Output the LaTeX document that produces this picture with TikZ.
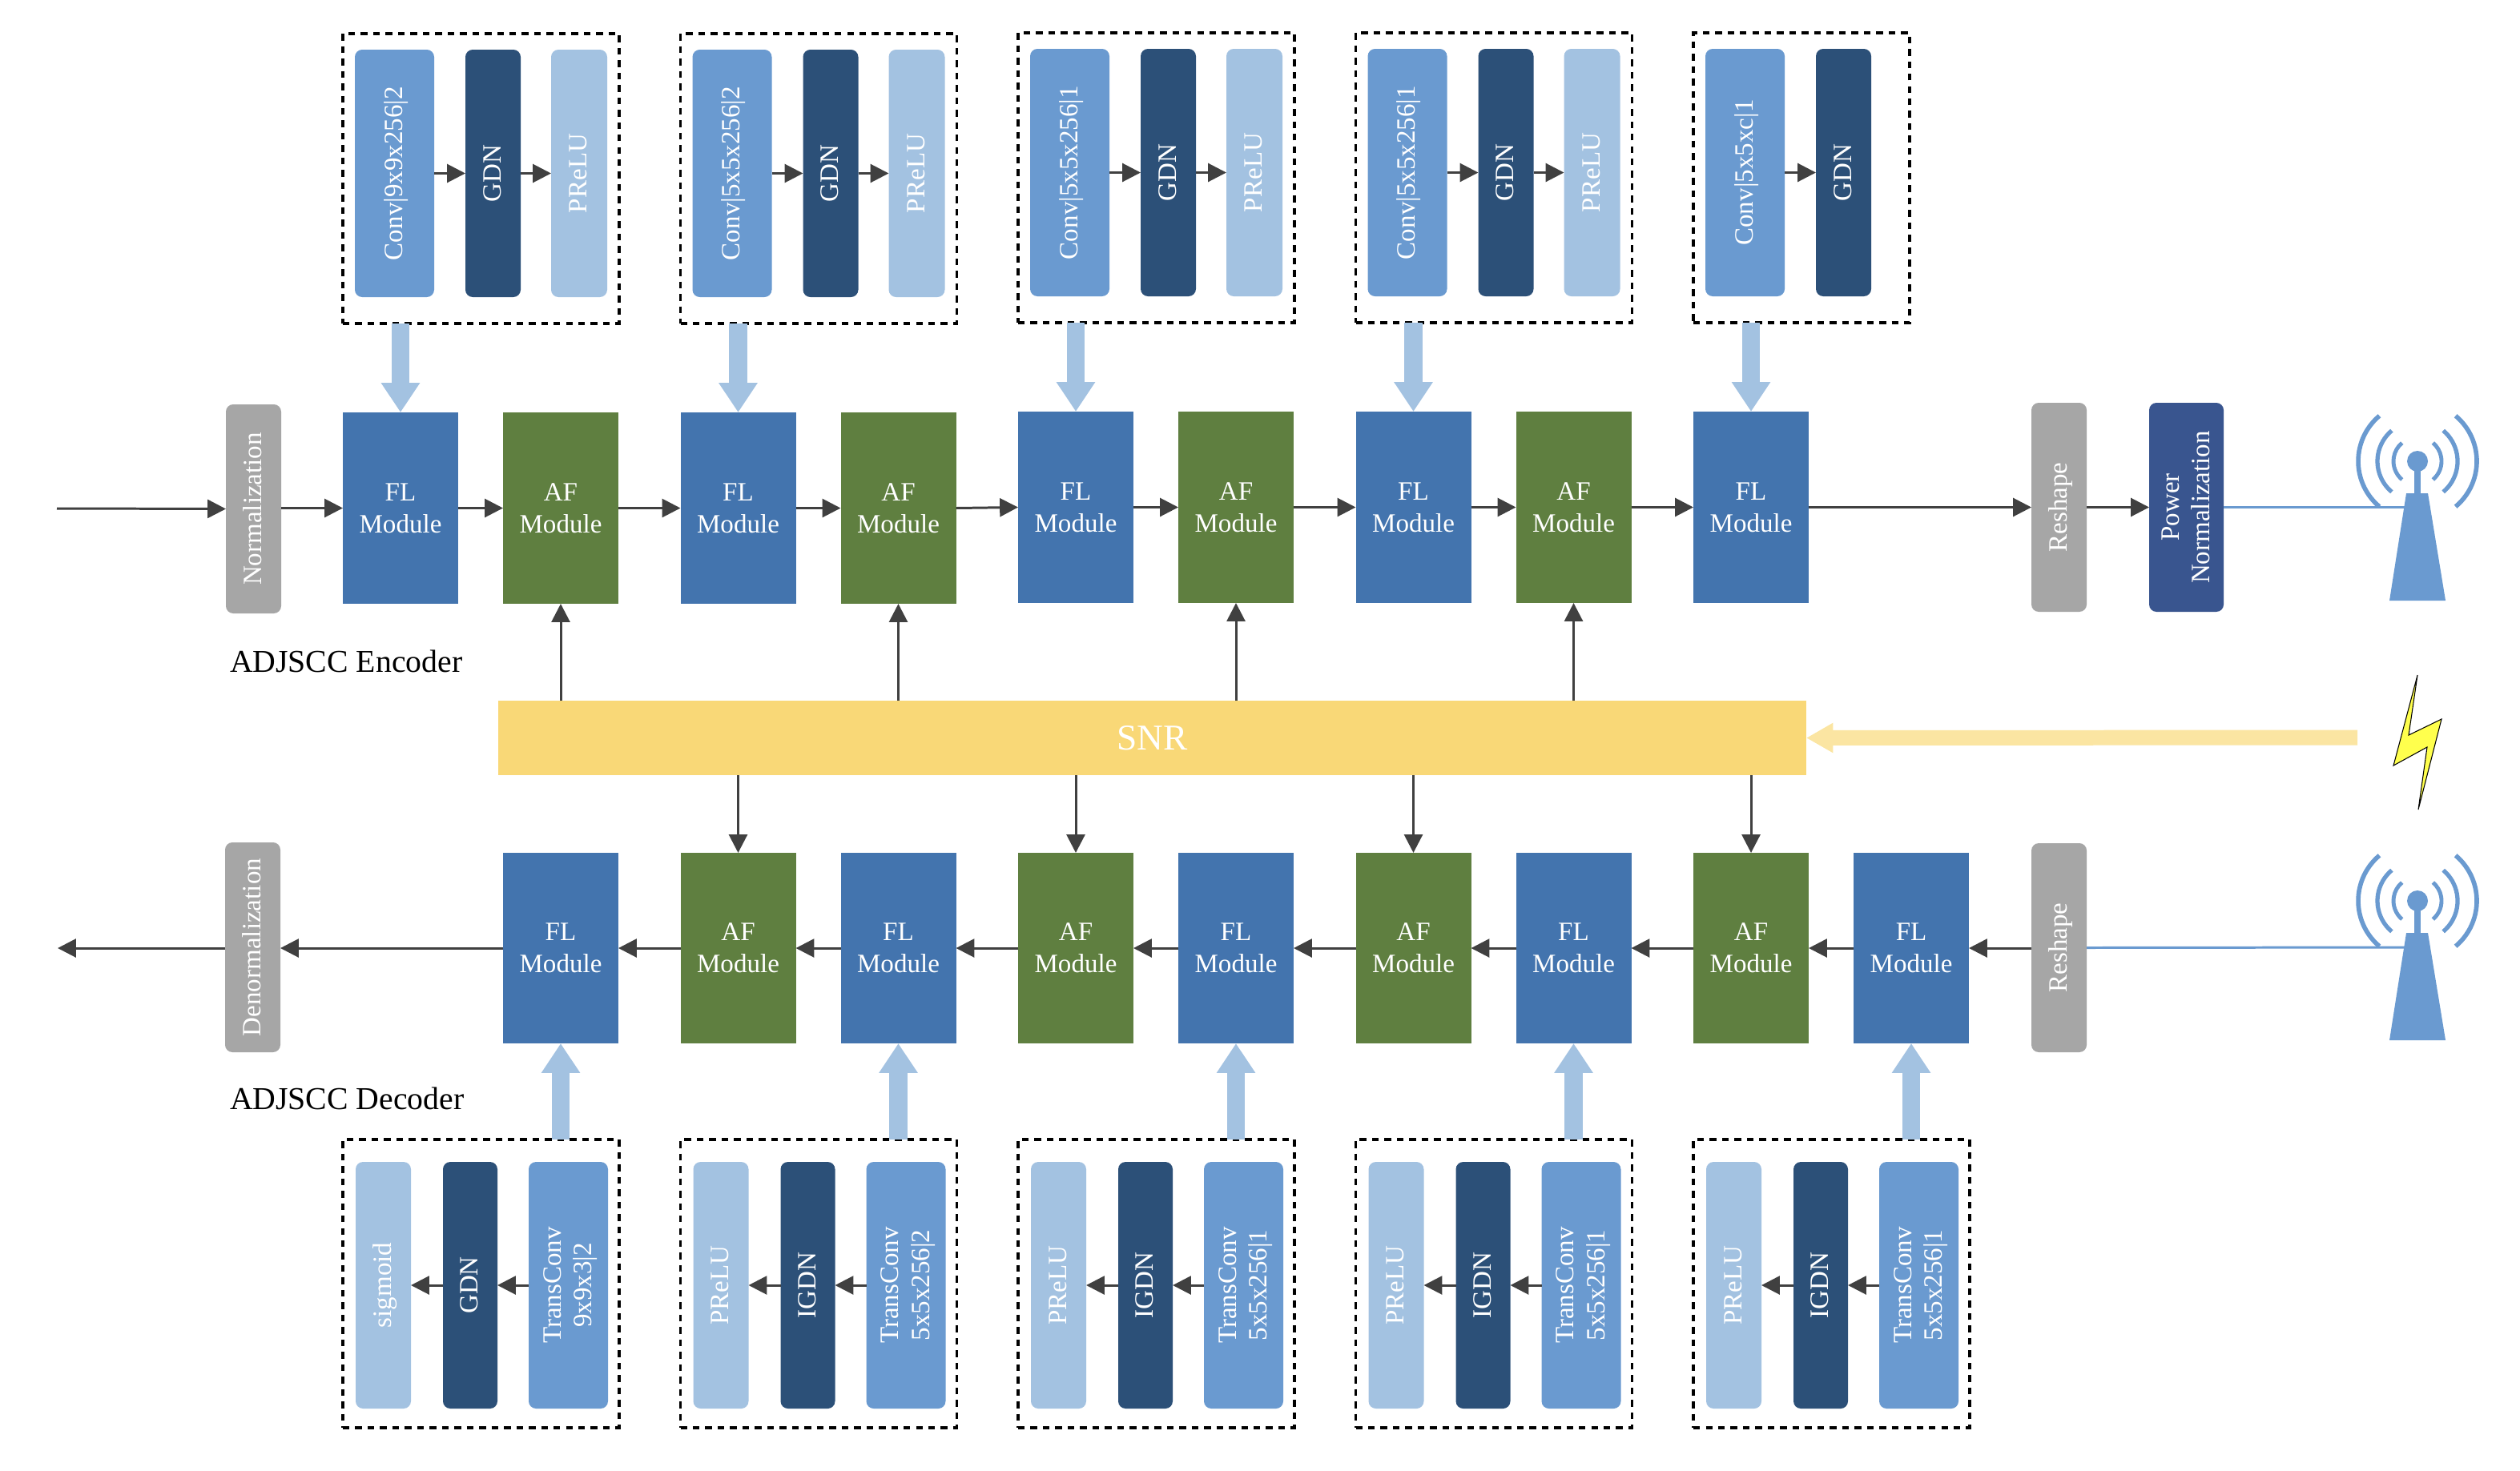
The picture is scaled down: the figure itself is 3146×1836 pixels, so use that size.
\documentclass[tikz,border=0pt]{standalone}
\usepackage{fontspec}
\setmainfont{Liberation Serif}
\usepackage{graphicx}
\usetikzlibrary{arrows.meta}
\definecolor{convblue}{HTML}{6A9AD0}
\definecolor{gdnblue}{HTML}{2C5078}
\definecolor{prelublue}{HTML}{A3C2E1}
\definecolor{flblue}{HTML}{4374AE}
\definecolor{afgreen}{HTML}{5F7F40}
\definecolor{normgray}{HTML}{A6A6A6}
\definecolor{powerblue}{HTML}{39558F}
\definecolor{snryellow}{HTML}{F9D877}
\definecolor{snrarrow}{HTML}{FBE5A2}
\definecolor{arrowdark}{HTML}{404040}
\definecolor{boltyellow}{HTML}{FFFF4D}
\newcommand{\bx}[7]{\node[#6,minimum width={((#4)-(#2))*0.01cm},minimum height={((#5)-(#3))*0.01cm}] (#1) at ({((#2)+(#4))/2},{((#3)+(#5))/2}) {#7};}
\newcommand{\rot}[1]{\rotatebox{90}{\raisebox{-0.3em}[0pt][0pt]{#1}}}
\newcommand{\rott}[2]{\rotatebox{90}{\raisebox{-0.31em}[0pt][0pt]{\begin{tabular}{@{}c@{}}#1\\#2\end{tabular}}}}
\tikzset{
  base/.style={inner sep=0pt,outer sep=0pt,text=white,anchor=center},
  tall/.style={base,rounded corners=2.6pt,font=\fontsize{9.4}{11}\selectfont},
  convbox/.style={tall,fill=convblue},
  gdnbox/.style={tall,fill=gdnblue},
  prelubox/.style={tall,fill=prelublue},
  graybox/.style={tall,fill=normgray},
  powerbox/.style={tall,fill=powerblue},
  module/.style={base,align=center,font=\fontsize{9.4}{11.3}\selectfont},
  flbox/.style={module,fill=flblue},
  afbox/.style={module,fill=afgreen},
  dashbox/.style={base,draw=black,line width=1pt,dash pattern=on 2.4pt off 2pt},
  snrbox/.style={base,fill=snryellow,font=\fontsize{12.9}{15}\selectfont},
  caption/.style={inner sep=0pt,outer sep=0pt,text=black,anchor=west,font=\fontsize{11.3}{13}\selectfont},
  flow/.style={draw=arrowdark,line width=0.85pt,-{Triangle[length=6.5pt,width=6.5pt]}},
  thick arrow/.style={draw=prelublue,line width=6.5pt,-{Triangle[length=10.5pt,width=13.1pt]}},
  snr arrow/.style={draw=snrarrow,line width=5.4pt,-{Triangle[length=9.5pt,width=10pt]}},
  radio/.style={draw=convblue,line width=0.85pt},
}
\begin{document}
\begin{tikzpicture}[x=0.01cm,y=-0.01cm]
\useasboundingbox (0,0) rectangle (3146,1836);

% Encoder columns
\foreach \n/\cx/\d/\a/\b/\c in {1/428/0/Conv|9x9x256|2/GDN/PReLU,2/849.5/0/Conv|5x5x256|2/GDN/PReLU,3/1271/-1/Conv|5x5x256|1/GDN/PReLU,4/1692.5/-1/Conv|5x5x256|1/GDN/PReLU}{
  \bx{eb\n}{\cx}{42+\d}{\cx+345}{404+\d}{dashbox}{}
  \bx{ec\n}{\cx+15}{62+\d}{\cx+114}{371+\d}{convbox}{\rot{\a}}
  \bx{eg\n}{\cx+153}{62+\d}{\cx+222}{371+\d}{gdnbox}{\rot{\b}}
  \bx{ep\n}{\cx+260}{62+\d}{\cx+330}{371+\d}{prelubox}{\rot{\c}}
  \draw[flow] (ec\n.east) -- (eg\n.west);
  \draw[flow] (eg\n.east) -- (ep\n.west);
  \bx{efl\n}{\cx}{515+\d}{\cx+144}{754+\d}{flbox}{FL\\Module}
  \bx{eaf\n}{\cx+200}{515+\d}{\cx+344}{754+\d}{afbox}{AF\\Module}
  \draw[flow] (efl\n.east) -- (eaf\n.west);
  \draw[thick arrow] (efl\n.north |- eb\n.south) -- (efl\n.north);
}
\bx{eb5}{2114}{41}{2384}{403}{dashbox}{}
\bx{ec5}{2129}{61}{2228}{370}{convbox}{\rot{Conv|5x5xc|1}}
\bx{eg5}{2267}{61}{2336}{370}{gdnbox}{\rot{GDN}}
\draw[flow] (ec5.east) -- (eg5.west);
\bx{efl5}{2114}{514}{2258}{753}{flbox}{FL\\Module}
\draw[thick arrow] (efl5.north |- eb5.south) -- (efl5.north);

% Encoder row ends
\coordinate (ein) at (71,635);
\bx{norm}{282}{505}{351}{766}{graybox}{\rot{Normalization}}
\bx{ersh}{2536}{503}{2605}{764}{graybox}{\rot{Reshape}}
\bx{epow}{2683}{503}{2776}{764}{powerbox}{\rott{Power}{Normalization}}
\draw[flow] (ein) -- (norm.west);
\draw[flow] (norm.east |- efl1.west) -- (efl1.west);
\draw[flow] (eaf1.east) -- (efl2.west);
\draw[flow] (eaf2.east) -- (efl3.west);
\draw[flow] (eaf3.east) -- (efl4.west);
\draw[flow] (eaf4.east) -- (efl5.west);
\draw[flow] (efl5.east) -- (ersh.west |- efl5.east);
\draw[flow] (ersh.east |- epow.west) -- (epow.west);
\node[caption] (enccap) at (287,826) {ADJSCC Encoder};

% SNR
\bx{snr}{622}{875}{2255}{968}{snrbox}{SNR}
\coordinate (snrsrc) at (2943,921);
\draw[snr arrow] (snrsrc) -- (snr.east);
\foreach \n in {1,2,3,4}{
  \draw[flow] (eaf\n.south |- snr.north) -- (eaf\n.south);
}

% Decoder columns
\foreach \n/\cx/\a/\b/\t/\u in {1/428/sigmoid/GDN/TransConv/9x9x3|2,2/849.5/PReLU/IGDN/TransConv/5x5x256|2,3/1271/PReLU/IGDN/TransConv/5x5x256|1,4/1692.5/PReLU/IGDN/TransConv/5x5x256|1,5/2114/PReLU/IGDN/TransConv/5x5x256|1}{
  \bx{db\n}{\cx}{1423}{\cx+345}{1783}{dashbox}{}
  \bx{dp\n}{\cx+16}{1451}{\cx+85}{1759}{prelubox}{\rot{\a}}
  \bx{dg\n}{\cx+125}{1451}{\cx+193}{1759}{gdnbox}{\rot{\b}}
  \bx{dt\n}{\cx+232}{1451}{\cx+331}{1759}{convbox}{\rott{\t}{\u}}
  \draw[flow] (dt\n.west) -- (dg\n.east);
  \draw[flow] (dg\n.west) -- (dp\n.east);
  \bx{dfl\n}{\cx+200}{1065}{\cx+344}{1303}{flbox}{FL\\Module}
  \draw[thick arrow] (dfl\n.south |- db\n.north) -- (dfl\n.south);
}
\foreach \n/\cx in {1/849.5,2/1271,3/1692.5,4/2114}{
  \bx{daf\n}{\cx}{1065}{\cx+144}{1303}{afbox}{AF\\Module}
  \draw[flow] (daf\n.north |- snr.south) -- (daf\n.north);
}
\foreach \a/\b in {dfl5/daf4,daf4/dfl4,dfl4/daf3,daf3/dfl3,dfl3/daf2,daf2/dfl2,dfl2/daf1,daf1/dfl1}{
  \draw[flow] (\a.west) -- (\b.east);
}
\bx{dnorm}{281}{1052}{350}{1314}{graybox}{\rot{Denormalization}}
\bx{drsh}{2536}{1053}{2605}{1314}{graybox}{\rot{Reshape}}
\coordinate (dout) at (72,1184);
\draw[flow] (dfl1.west) -- (dnorm.east |- dfl1.west);
\draw[flow] (dnorm.west |- dout) -- (dout);
\draw[flow] (drsh.west |- dfl5.east) -- (dfl5.east);
\node[caption] (deccap) at (287,1372) {ADJSCC Decoder};

% Antennas
\coordinate (txt) at (3004,633);
\coordinate (rxt) at (3004,1183);
\draw[radio] (epow.east |- txt) -- (txt);
\draw[radio] (drsh.east) -- (rxt);
\foreach \ty in {576,1125}{
  \begin{scope}[shift={(3018,\ty)}]
    \fill[convblue] (-14,40) -- (13,40) -- (35,174) -- (-35,174) -- cycle;
    \fill[convblue] (-4,10) rectangle (3.5,41);
    \fill[convblue] (0,0) ellipse [x radius=13,y radius=13];
    \foreach \r/\lw in {74/1.6pt,50/1.5pt,30/1.4pt}{
      \draw[draw=convblue,line width=\lw] (130:\r) arc [start angle=130,end angle=230,radius=\r];
      \draw[draw=convblue,line width=\lw] (50:\r) arc [start angle=50,end angle=-50,radius=\r];
    }
  \end{scope}
}
% Lightning
\draw[fill=boltyellow,draw=black,line width=0.3pt] (3018,843) -- (3007,918) -- (3048,898) -- (3019,1011) -- (3030,933) -- (2988,956) -- cycle;
\end{tikzpicture}
\end{document}
